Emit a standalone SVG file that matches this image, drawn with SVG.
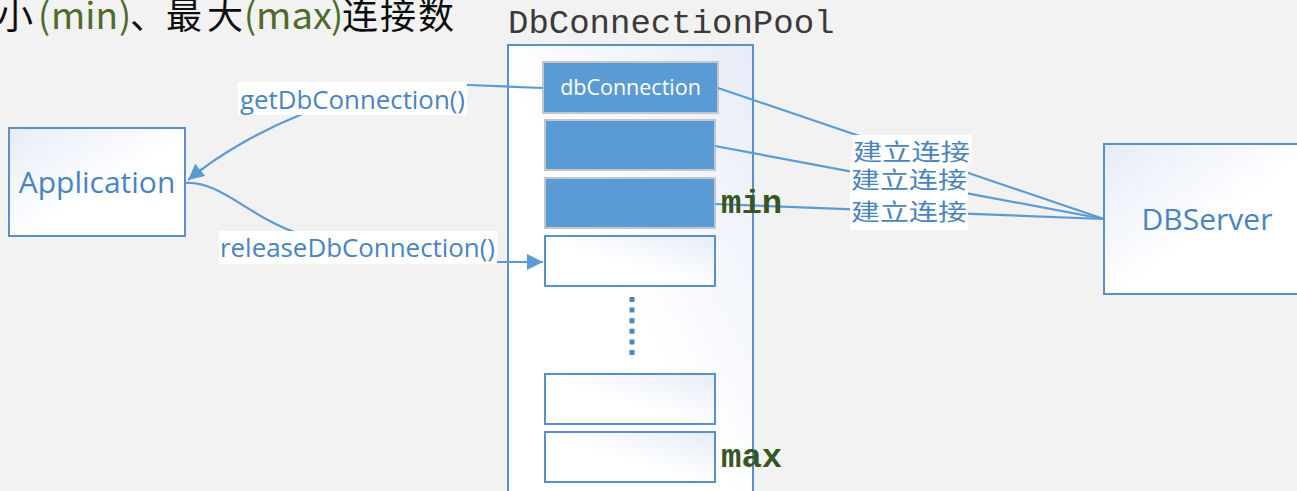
<svg xmlns="http://www.w3.org/2000/svg" width="1297" height="491" viewBox="0 0 1297 491">
  <defs>
    <linearGradient id="gradTL" x1="0" y1="0" x2="1" y2="1">
      <stop offset="0" stop-color="#e6ecf7"/>
      <stop offset="0.55" stop-color="#ffffff"/>
      <stop offset="1" stop-color="#ffffff"/>
    </linearGradient>
    <linearGradient id="gradTR" x1="1" y1="0" x2="0" y2="1">
      <stop offset="0" stop-color="#e6ecf7"/>
      <stop offset="0.55" stop-color="#ffffff"/>
      <stop offset="1" stop-color="#ffffff"/>
    </linearGradient>
    <marker id="arrow" markerUnits="userSpaceOnUse" markerWidth="18" markerHeight="18" refX="16" refY="8" orient="auto">
      <path d="M0,0 L16,8 L0,16 z" fill="#5b9bd5"/>
    </marker>
    <style>
      .frame { stroke: #5b8fc8; stroke-width: 2; }
      .slot { fill: url(#gradTR); stroke: #5b8fc8; stroke-width: 2; }
      .busy { fill: #5b9bd5; stroke: #c3c7cc; stroke-width: 2; }
      .wire { fill: none; stroke: #5b9bd5; stroke-width: 2.2; }
      .lbl-bg { fill: #ffffff; }
      .blue { fill: #4a84bf; font-family: "Open Sans", "Noto Sans", sans-serif; }
      .cjk { fill: #4a84bf; font-family: "Noto Sans CJK SC", sans-serif; font-size: 23px; }
      .mark { fill: #375623; font-family: "Liberation Mono", monospace; font-weight: bold; font-size: 34px; }
    </style>
  </defs>

  <rect width="1297" height="491" fill="#f2f2f2"/>

  <!-- heading line, partly cut at the left edge -->
  <g id="heading" font-family="'Noto Sans CJK SC', sans-serif" font-size="36">
    <text x="-3" y="29" fill="#0d0d0d">小</text>
    <text x="38" y="29" fill="#4f6b2c">(</text>
    <text x="51" y="29" fill="#4f6b2c" textLength="67" lengthAdjust="spacingAndGlyphs">min</text>
    <text x="119" y="29" fill="#4f6b2c">)</text>
    <text x="130" y="29" fill="#0d0d0d">、</text>
    <text x="166" y="29" fill="#0d0d0d" textLength="77" lengthAdjust="spacing">最大</text>
    <text x="244" y="29" fill="#4f6b2c">(</text>
    <text x="256" y="29" fill="#4f6b2c" textLength="76" lengthAdjust="spacingAndGlyphs">max</text>
    <text x="331" y="29" fill="#4f6b2c">)</text>
    <text x="342" y="29" fill="#0d0d0d" textLength="112" lengthAdjust="spacing">连接数</text>
  </g>

  <!-- connection pool container -->
  <g id="pool">
    <text x="508" y="33" font-family="'Liberation Mono', monospace" font-size="34" fill="#3a3a3a">DbConnectionPool</text>
    <rect x="508" y="45" width="245" height="452" fill="url(#gradTR)" class="frame"/>
  </g>

  <g id="slot1">
    <rect x="543" y="62" width="175" height="51" class="busy"/>
    <text x="630.5" y="95" text-anchor="middle" font-family="'Open Sans', sans-serif" font-size="21.5" fill="#ffffff">dbConnection</text>
  </g>
  <g id="slot2"><rect x="545" y="120" width="170" height="50" class="busy"/></g>
  <g id="slot3"><rect x="545" y="178" width="170" height="50" class="busy"/></g>
  <g id="slot4"><rect x="545" y="236" width="170" height="50" class="slot"/></g>
  <g id="ellipsis">
    <line x1="632" y1="297" x2="632" y2="356" stroke="#4f87c0" stroke-width="5" stroke-dasharray="5 5.6"/>
  </g>
  <g id="slot5"><rect x="545" y="374" width="170" height="50" class="slot"/></g>
  <g id="slot6"><rect x="545" y="432" width="170" height="50" class="slot"/></g>

  <!-- client application -->
  <g id="application">
    <rect x="9" y="128" width="176" height="108" fill="url(#gradTL)" class="frame"/>
    <text x="97" y="193" text-anchor="middle" class="blue" font-size="30">Application</text>
  </g>

  <!-- database server -->
  <g id="dbserver">
    <rect x="1104" y="144" width="200" height="150" fill="url(#gradTL)" class="frame"/>
    <text x="1207" y="230" text-anchor="middle" class="blue" font-size="30">DBServer</text>
  </g>

  <!-- connectors -->
  <g id="connectors">
    <path class="wire" d="M543,88 L468,85 C400,84 340,97 300,115 C265,129 222,152 188,180" marker-end="url(#arrow)"/>
    <path class="wire" d="M185,183 C220,180 250,218 300,234 C340,248 420,262 470,262 L543,262" marker-end="url(#arrow)"/>
    <line class="wire" x1="718" y1="88" x2="1104" y2="219"/>
    <line class="wire" x1="715" y1="146" x2="1104" y2="219"/>
    <line class="wire" x1="715" y1="204" x2="1104" y2="219"/>
  </g>

  <!-- connector labels -->
  <g id="label-get">
    <rect x="238" y="82" width="229" height="33" class="lbl-bg"/>
    <text x="240" y="109" class="blue" font-size="26" textLength="225" lengthAdjust="spacingAndGlyphs">getDbConnection()</text>
  </g>
  <g id="label-release">
    <rect x="219" y="231" width="278" height="33" class="lbl-bg"/>
    <text x="220" y="257" class="blue" font-size="26" textLength="275" lengthAdjust="spacingAndGlyphs">releaseDbConnection()</text>
  </g>
  <g id="label-connect1">
    <rect x="852" y="135" width="120" height="28" class="lbl-bg"/>
    <text x="853" y="160" class="cjk" textLength="117" lengthAdjust="spacingAndGlyphs">建立连接</text>
  </g>
  <g id="label-connect2">
    <rect x="850" y="163" width="118" height="33" class="lbl-bg"/>
    <text x="851" y="188" class="cjk" textLength="116" lengthAdjust="spacingAndGlyphs">建立连接</text>
  </g>
  <g id="label-connect3">
    <rect x="850" y="196" width="118" height="34" class="lbl-bg"/>
    <text x="851" y="220" class="cjk" textLength="116" lengthAdjust="spacingAndGlyphs">建立连接</text>
  </g>

  <!-- pool bounds -->
  <g id="bound-min"><text x="721" y="213" class="mark">min</text></g>
  <g id="bound-max"><text x="721" y="467" class="mark">max</text></g>
</svg>
